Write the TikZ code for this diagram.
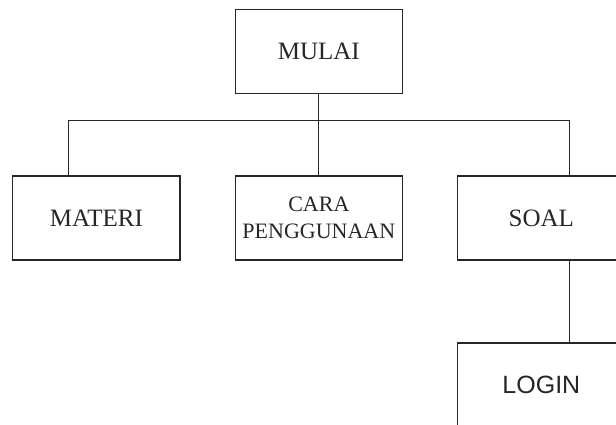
\documentclass[tikz,border=0pt]{standalone}
\usepackage{fontspec}
\setmainfont{Liberation Serif}
\newfontfamily\sansfam{Liberation Sans}
\usetikzlibrary{calc}
\begin{document}
\begin{tikzpicture}[x=1pt,y=-1pt,
  box/.style={draw=black!85, line width=1.2pt, minimum width=167.3pt, minimum height=84pt,
    inner sep=0pt, align=center, font=\fontsize{25}{27}\selectfont, text=black!85},
  link/.style={draw=black!85, line width=1.2pt}]
\useasboundingbox (0,0) rectangle (616,425);
\node[box] (mulai) at (318.85,51.3) {MULAI};
\node[box] (materi) at (96.35,218) {MATERI};
\node[box, font=\fontsize{22}{27}\selectfont] (cara) at (318.85,218) {CARA\\PENGGUNAAN};
\node[box] (soal) at (541.35,218) {SOAL};
\node[box, font=\sansfam\fontsize{25}{27}\selectfont] (login) at (541.35,385) {LOGIN};
\coordinate (busy) at (0,120.5);
\coordinate (materiin) at ($(materi.north west)!1/3!(materi.north east)$);
\coordinate (soalin) at ($(soal.north west)!2/3!(soal.north east)$);
\coordinate (soalout) at ($(soal.south west)!2/3!(soal.south east)$);
\coordinate (loginin) at ($(login.north west)!2/3!(login.north east)$);
\draw[link] (mulai.south) -- (cara.north);
\draw[link] (mulai.south |- busy) -| (materiin);
\draw[link] (mulai.south |- busy) -| (soalin);
\draw[link] (soalout) -- (loginin);
\end{tikzpicture}
\end{document}
